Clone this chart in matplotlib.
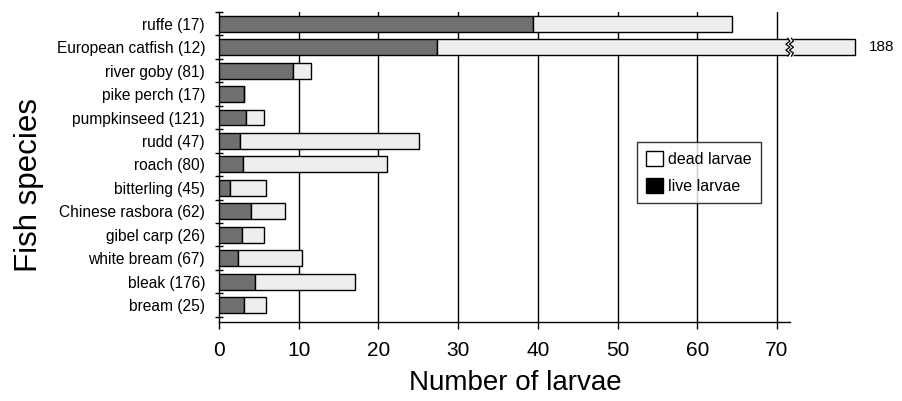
import matplotlib
matplotlib.use("Agg")
import matplotlib.pyplot as plt
import numpy as np
from matplotlib.patches import Patch

plt.rcParams['font.family'] = ['Liberation Sans', 'DejaVu Sans']

# ---- data ----
species = ["ruffe (17)", "European catfish (12)", "river goby (81)", "pike perch (17)",
           "pumpkinseed (121)", "rudd (47)", "roach (80)", "bitterling (45)",
           "Chinese rasbora (62)", "gibel carp (26)", "white bream (67)",
           "bleak (176)", "bream (25)"]
live = [39.4, 27.3, 9.3, 3.1, 3.4, 2.6, 3.0, 1.4, 4.0, 2.9, 2.4, 4.5, 3.1]
total = [64.4, 188, 11.6, 3.1, 5.7, 25.1, 21.1, 5.9, 8.3, 5.6, 10.4, 17.1, 5.9]
xticks = [0, 10, 20, 30, 40, 50, 60, 70]

# ---- style / layout ----
axis_cap = 79.8      # displayed end of a broken bar
break_at = 71.6      # axis break position
live_color = "#707070"
dead_color = "#eeeeee"

fig = plt.figure(figsize=(9.02, 4.01), dpi=100)
W, H = 902, 401
x0, x1 = 219, 858
ytop, ybot = 12, 322
ax = fig.add_axes([x0 / W, (H - ybot) / H, (x1 - x0) / W, (ybot - ytop) / H])

y = np.arange(len(species))
live_a = np.array(live)
total_a = np.array(total)
shown_dead = np.minimum(total_a, axis_cap) - live_a

bh = 0.68
ax.barh(y, live_a, height=bh, color=live_color, edgecolor="black", linewidth=1.0, zorder=3)
ax.barh(y, shown_dead, left=live_a, height=bh, color=dead_color, edgecolor="black",
        linewidth=1.0, zorder=3)

# broken bars
for yi, t in zip(y, total_a):
    if t > axis_cap:
        amp = 0.25
        ys = np.linspace(yi - bh / 2 - 0.04, yi + bh / 2 + 0.04, 7)
        xs = np.array([0, 1, -1, 1, -1, 1, 0]) * amp
        g = 0.45
        ax.fill_betweenx(ys, break_at - g / 2 + xs, break_at + g / 2 + xs, color="white", zorder=4)
        ax.plot(break_at - g / 2 + xs, ys, color="black", lw=0.9, zorder=5)
        ax.plot(break_at + g / 2 + xs, ys, color="black", lw=0.9, zorder=5)
        ax.annotate(f"{t:g}", xy=(axis_cap, yi), xytext=(10, 0), textcoords="offset points",
                    va="center", ha="left", fontsize=11)

ax.set_xlim(0, (x1 - x0) / 7.97)
ax.set_ylim(12.72, -0.4)

# grid
for xt in xticks[1:]:
    ax.axvline(xt, color="black", lw=1.0, zorder=1)

ax.spines['top'].set_visible(False)
ax.spines['right'].set_visible(False)
ax.spines['bottom'].set_bounds(0, break_at)
ax.spines['bottom'].set_linewidth(1.0)
ax.spines['left'].set_linewidth(1.0)

ax.set_xticks(xticks)
ax.set_xticklabels([str(v) for v in xticks], fontsize=15)
ax.tick_params(axis='x', direction='out', length=5, width=1, pad=9)

ax.set_yticks(y)
ax.set_yticklabels(species, fontsize=11.2)
ax.tick_params(axis='y', which='major', length=0, pad=10)
ax.set_yticks(np.arange(-0.5, len(species), 1.0), minor=True)
ax.tick_params(axis='y', which='minor', direction='inout', length=6, width=1)

fig.text(515 / W, (H - 383) / H, "Number of larvae", ha="center", va="center", fontsize=20)
fig.text(29 / W, (H - 185) / H, "Fish species", ha="center", va="center", rotation=90, fontsize=22.5)

handles = [Patch(facecolor="white", edgecolor="black", label="dead larvae"),
           Patch(facecolor="black", edgecolor="black", label="live larvae")]
leg = ax.legend(handles=handles, loc="upper left",
                bbox_to_anchor=((637 - x0) / (x1 - x0), (ybot - 142) / (ybot - ytop)),
                fontsize=11.5, frameon=True, fancybox=False, handlelength=1.1,
                handleheight=1.1, handletextpad=0.3, borderpad=0.55, labelspacing=0.7,
                borderaxespad=0)
leg.get_frame().set_edgecolor("black")
leg.get_frame().set_linewidth(1.0)
leg.set_zorder(10)

fig.savefig("out.png", dpi=100)
